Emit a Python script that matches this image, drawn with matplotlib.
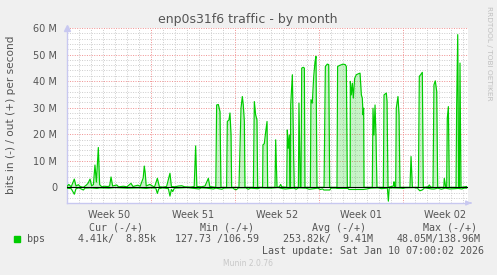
import numpy as np
import matplotlib
matplotlib.use("Agg")
import matplotlib.pyplot as plt

# data (days since Mon Dec 8 00:00, values in Mbit/s)
out_days = [0.0, 0.15, 0.35, 0.61, 0.75, 0.95, 1.1, 1.36, 1.6, 1.75, 1.92, 2.05, 2.2, 2.33, 2.45, 2.61,
            2.72, 2.9, 3.1, 3.4, 3.55, 3.67, 3.8, 4.14, 4.3, 4.7, 5.0, 5.33, 5.5, 5.9, 6.1, 6.35, 6.44,
            6.52, 6.6, 6.9, 7.2,
            7.3, 7.53, 7.7, 8.0, 8.3, 8.58, 8.7, 9.0, 9.3, 9.56, 9.8, 10.3, 10.6, 10.72, 10.82, 11.2,
            11.5, 11.78, 11.9, 12.4, 12.47, 12.61, 12.75, 12.83, 13.3, 13.36, 13.5, 13.58, 13.67, 13.72,
            14.33, 14.5, 14.61, 14.69, 14.78, 14.83, 15.53, 15.61, 15.72, 15.83, 15.89,
            16.3, 16.33, 16.44, 16.56, 16.67, 16.72, 17.33, 17.39, 17.5, 17.7, 17.8, 17.9,
            18.31, 18.36, 18.44, 18.53, 18.58, 18.62, 18.64, 18.78, 18.89, 18.94,
            19.28, 19.33, 19.44, 19.5, 19.56, 19.69, 19.78, 19.83,
            20.28, 20.33, 20.44, 20.56, 20.67, 20.75, 20.83,
            21.42, 21.53, 21.69, 21.81, 21.89, 22.5, 22.55, 22.72, 23.0, 23.19, 23.28, 23.36,
            23.6, 23.61, 23.69, 23.78, 23.86, 23.97, 24.11, 24.25, 24.42, 24.53, 24.61, 24.67, 24.72, 24.75,
            25.44, 25.5, 25.58, 25.67, 25.75, 25.83, 26.36, 26.42, 26.61, 26.67, 26.75,
            27.2, 27.25, 27.3, 27.39, 27.44, 27.58, 27.67, 27.75,
            28.58, 28.67, 28.78, 29.28, 29.36, 29.47, 29.61, 29.69, 30.1, 30.19, 30.3,
            30.5, 30.58, 30.69, 30.81, 30.89, 31.4, 31.44, 31.56, 31.64, 31.69, 31.78, 31.86,
            32.42, 32.47, 32.56, 32.64, 32.69, 32.75, 32.83, 33.17, 33.29]
out_vals = [0.3, 1.1, 0.2, 3.1, 0.5, 1.0, 0.3, 0.0, 0.8, 1.5, 3.1, 0.6, 1.0, 8.4, 2.0, 15.0,
            1.0, 0.2, 0.4, 0.3, 0.5, 3.9, 0.5, 0.9, 0.2, 0.4, 0.2, 1.5, 0.3, 0.8, 0.4, 3.5, 8.0,
            5.3, 0.5, 1.1, 0.3,
            0.2, 3.4, 0.2, 0.1, 0.3, 5.3, 0.3, 0.2, 0.5, 0.6, 0.2, 0.1, 0.3, 15.6, 0.3, 0.2,
            0.5, 3.4, 0.3, 0.0, 31.0, 31.2, 28.5, 0.0, 0.0, 24.8, 25.4, 28.0, 19.7, 0.0,
            0.0, 29.8, 34.2, 31.0, 24.8, 0.0, 0.0, 32.3, 27.3, 25.4, 0.0,
            0.0, 16.0, 16.4, 21.0, 24.8, 0.0, 0.0, 17.9, 0.0, 0.2, 1.1, 0.2,
            0.0, 21.6, 14.7, 19.7, 0.0, 0.0, 31.0, 42.4, 11.0, 0.0,
            0.0, 31.7, 0.0, 0.0, 44.9, 45.2, 44.9, 0.0,
            0.0, 33.0, 31.7, 41.8, 47.4, 49.3, 0.0,
            0.0, 45.5, 46.4, 46.2, 0.0, 0.0, 45.5, 45.9, 46.4, 46.2, 45.5, 0.0,
            0.0, 39.9, 34.8, 39.2, 33.6, 41.0, 42.4, 42.7, 43.0, 34.8, 33.6, 27.3, 29.8, 0.0,
            0.0, 29.8, 19.7, 31.0, 19.0, 0.0, 0.0, 34.8, 35.5, 32.3, 0.0,
            0.5, 2.1, 0.3, 0.0, 29.8, 34.2, 27.3, 0.0,
            0.0, 11.6, 0.0, 0.0, 41.8, 42.4, 43.3, 0.0, 0.2, 0.9, 0.1,
            0.0, 38.6, 40.1, 36.1, 0.0, 0.0, 3.4, 0.0, 0.0, 26.0, 30.4, 0.0,
            0.0, 30.0, 57.5, 0.0, 0.0, 46.8, 0.0, 0.2, 0.3]

in_days = [0.0, 0.35, 0.61, 0.75, 1.0, 1.36, 1.5, 2.0, 2.5, 2.72, 3.5, 4.0, 5.0, 6.0, 6.6, 7.0,
           7.4, 7.53, 7.65, 8.0, 8.45, 8.58, 8.7, 8.81, 8.95, 9.5, 10.0, 11.0, 11.2, 11.6, 12.2,
           12.4, 12.9, 13.1, 13.8, 14.0, 14.1, 14.3, 14.9, 15.1, 15.3, 15.9, 16.1, 16.8, 17.0,
           17.6, 18.0, 18.2, 18.9, 19.1, 19.3, 19.9, 20.1, 20.2, 20.9, 21.1, 21.3,
           21.4, 21.9, 22.0, 22.4, 22.5, 23.4, 23.5, 24.7, 25.0, 25.3, 25.9, 26.2, 26.7, 26.78,
           26.85, 27.1, 27.8, 28.0, 28.2, 28.9, 29.2, 29.4, 29.6, 29.8, 30.4, 30.6, 30.9, 31.2,
           31.5, 31.9, 32.3, 32.6, 32.9, 33.1, 33.29]
in_vals = [0.3, 0.5, 2.6, 0.5, 0.2, 1.0, 0.3, 0.2, 0.4, 0.2, 0.3, 0.1, 0.3, 0.2, 0.4, 0.2,
           0.3, 2.3, 0.5, 0.2, 0.5, 3.3, 0.8, 1.6, 0.3, 0.2, 0.1, 0.6, 0.2, 0.3, 0.6,
           0.3, 0.7, 0.3, 0.2, 0.8, 0.9, 0.2, 0.2, 0.7, 0.3, 0.5, 0.2, 0.3, 0.3,
           0.1, 0.5, 0.6, 0.3, 0.7, 0.2, 0.3, 0.6, 0.7, 0.3, 0.8, 0.6,
           1.0, 1.0, 0.3, 0.3, 0.4, 0.4, 0.8, 0.8, 0.6, 0.3, 0.2, 0.5, 0.3, 5.2,
           0.3, 0.2, 0.3, 0.4, 0.2, 0.1, 0.3, 1.3, 1.0, 0.2, 0.6, 0.6, 0.3, 0.7,
           0.3, 0.6, 0.5, 0.4, 0.6, 0.3, 0.3]

week_labels = ["Week 50", "Week 51", "Week 52", "Week 01", "Week 02"]
week_pos = [3.5, 10.5, 17.5, 24.5, 31.5]
ytick_vals = [0, 10, 20, 30, 40, 50, 60]
ytick_labels = ["0", "10 M", "20 M", "30 M", "40 M", "50 M", "60 M"]

W, H = 497, 275
green = "#00cc00"
txt = "#555555"
bg = "#f0f0f0"
axcol = "#c8c8f0"

fig = plt.figure(figsize=(W / 100, H / 100), dpi=100, facecolor=bg)
# plot area in pixels: x 67..468, y 28..203
ax = fig.add_axes([67 / W, 1 - 203 / H, (468 - 67) / W, (203 - 28) / H])
ax.set_facecolor("white")
xmax = (468 - 67) / 12.0
ymin = -5.9
ax.set_xlim(0, xmax)
ax.set_ylim(ymin, 60)

# grid: minor every day / 2M, major every week / 10M
for d in range(1, 34):
    if d % 7:
        ax.axvline(d, color="#cccccc", lw=0.7, ls=(0, (1, 1.5)), zorder=1)
for v in np.arange(-4, 60, 2):
    if v % 10:
        ax.axhline(v, color="#cccccc", lw=0.7, ls=(0, (1, 1.5)), zorder=1)
for d in [7, 14, 21, 28]:
    ax.axvline(d, color="#f09090", lw=0.7, ls=(0, (1, 1.5)), zorder=1)
for v in [10, 20, 30, 40, 50, 60]:
    ax.axhline(v, color="#f09090", lw=0.7, ls=(0, (1, 1.5)), zorder=1)

od = np.array(out_days)
ov = np.array(out_vals)
idy = np.array(in_days)
iv = -np.array(in_vals)
ax.fill_between(od, 0, ov, color=green, alpha=0.22, lw=0, zorder=2)
ax.plot(od, ov, color=green, lw=0.85, zorder=3)
ax.plot(idy, iv, color=green, lw=0.85, zorder=3)
ax.axhline(0, color="black", lw=0.8, zorder=4)

for s in ["top", "right"]:
    ax.spines[s].set_visible(False)
for s in ["left", "bottom"]:
    ax.spines[s].set_color(axcol)
    ax.spines[s].set_linewidth(1.0)
ax.plot([0], [60], marker="^", color=axcol, ms=4, clip_on=False)
ax.annotate("", xy=(xmax + 0.5, ymin), xytext=(xmax, ymin),
            arrowprops=dict(arrowstyle="-|>", color=axcol, lw=1, mutation_scale=7),
            annotation_clip=False)

ax.set_yticks(ytick_vals)
ax.set_yticklabels(ytick_labels)
ax.set_xticks(week_pos)
ax.set_xticklabels(week_labels)
ax.tick_params(axis="y", length=0, pad=7, labelsize=7, labelcolor=txt)
ax.tick_params(axis="x", length=0, pad=5, labelsize=7, labelcolor=txt)

def fx(px):
    return px / W

def fy(py):
    return 1 - py / H

fig.text(fx(248), fy(19), "enp0s31f6 traffic - by month", ha="center", va="center",
         fontsize=9, color=txt)
fig.text(fx(11), fy(115), "bits in (-) / out (+) per second", rotation=90,
         ha="center", va="center", fontsize=7.6, color=txt)
fig.text(fx(489), fy(53), "RRDTOOL / TOBI OETIKER", rotation=270, ha="center",
         va="center", fontsize=5.3, color="#c0c0c0")

mono = dict(family="DejaVu Sans Mono", fontsize=7.2, color=txt, va="center", ha="left")
for x0, s in [(89, "Cur (-/+)"), (200, "Min (-/+)"), (312, "Avg (-/+)"), (423, "Max (-/+)")]:
    fig.text(fx(x0), fy(228), s, **mono)
fig.patches.append(plt.Rectangle((fx(14), fy(242)), 6 / W, 6 / H, color=green,
                                 transform=fig.transFigure, figure=fig))
for x0, s in [(27, "bps"), (78, "4.41k/  8.85k"), (175, "127.73 /106.59"),
              (283, "253.82k/  9.41M"), (397, "48.05M/138.96M")]:
    fig.text(fx(x0), fy(239), s, **mono)
fig.text(fx(484), fy(251), "Last update: Sat Jan 10 07:00:02 2026",
         **dict(mono, ha="right"))
fig.text(fx(248), fy(264), "Munin 2.0.76", ha="center", va="center", fontsize=5.5,
         color="#c8c8c8")

fig.savefig("out.png", dpi=100, facecolor=bg)
